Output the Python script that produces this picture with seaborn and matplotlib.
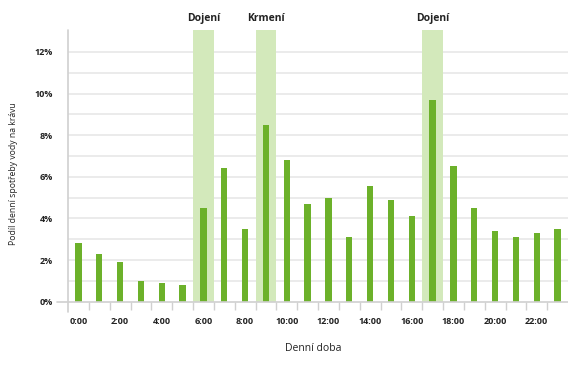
import matplotlib
matplotlib.use("Agg")
import matplotlib.pyplot as plt
import seaborn as sns
import pandas as pd

hours = [f"{h}:00" for h in range(24)]
share = [2.8, 2.3, 1.9, 1.0, 0.9, 0.8, 4.5, 6.4, 3.5, 8.5, 6.8, 4.7,
         5.0, 3.1, 5.55, 4.9, 4.1, 9.7, 6.5, 4.5, 3.4, 3.1, 3.3, 3.5]
events = ["Dojení", "Krmení", "Dojení"]
event_hours = [6, 9, 17]
y_major = [0, 2, 4, 6, 8, 10, 12]
y_minor = [1, 3, 5, 7, 9, 11]

df = pd.DataFrame({"hour": hours, "share": share})

sns.set_theme(style="white")
plt.rcParams["font.family"] = ["Open Sans", "DejaVu Sans"]

fig = plt.figure(figsize=(5.68, 3.65), dpi=100)
ax = fig.add_axes([68/568, 63.3/365, 500/568, 271.7/365])

bar_color = "#6cb12a"
band_color = "#d3e9bb"
grid_color = "#e6e6e6"

for hr in event_hours:
    ax.axvspan(hr - 0.5, hr + 0.5, color=band_color, zorder=1, lw=0)

sns.barplot(data=df, x="hour", y="share", color=bar_color, width=0.3,
            saturation=1, linewidth=0, edgecolor="none", ax=ax, zorder=3)

ax.set_xlim(-0.5, 23.5)
ax.set_ylim(0, 13.05)

ax.set_yticks(y_major)
ax.set_yticklabels([f"{v}%" for v in y_major])
ax.set_yticks(y_minor, minor=True)
for v in y_major[1:] + y_minor:
    ax.axhline(v, color=grid_color, lw=1.1, zorder=0)
ax.axhline(0, xmin=-0.022, xmax=1, color="#d0d0d0", lw=1.2, zorder=4, clip_on=False)

ax.set_xticks(list(range(0, 24, 2)))
ax.set_xticklabels([hours[i] for i in range(0, 24, 2)])
ax.set_xticks([i - 0.5 for i in range(1, 24)], minor=True)

ax.tick_params(axis="x", which="major", length=0, pad=11, labelsize=6.5, labelcolor="#222222")
ax.tick_params(axis="x", which="minor", bottom=True, direction="out", length=6, width=1, color="#d0d0d0")
ax.tick_params(axis="y", which="both", length=0, pad=11, labelsize=6.5, labelcolor="#222222")
for lab in ax.get_xticklabels() + ax.get_yticklabels():
    lab.set_fontweight("bold")

for s in ["top", "right", "bottom", "left"]:
    ax.spines[s].set_visible(False)
ax.plot([-0.5, -0.5], [-0.5, 13.05], color="#d0d0d0", lw=1.2, clip_on=False, zorder=4)

for name, hr in zip(events, event_hours):
    ax.text(hr, 13.35, name, ha="center", va="bottom", fontsize=7.5,
            fontweight="bold", color="#222222", clip_on=False)

ax.set_xlabel("Denní doba", fontsize=7.5, color="#222222")
ax.xaxis.set_label_coords(0.49, -0.152)
ax.set_ylabel("Podíl denní spotřeby vody na krávu", fontsize=6.2, color="#222222")
ax.yaxis.set_label_coords(-0.1, 0.472)

fig.savefig("out.png", dpi=100)
